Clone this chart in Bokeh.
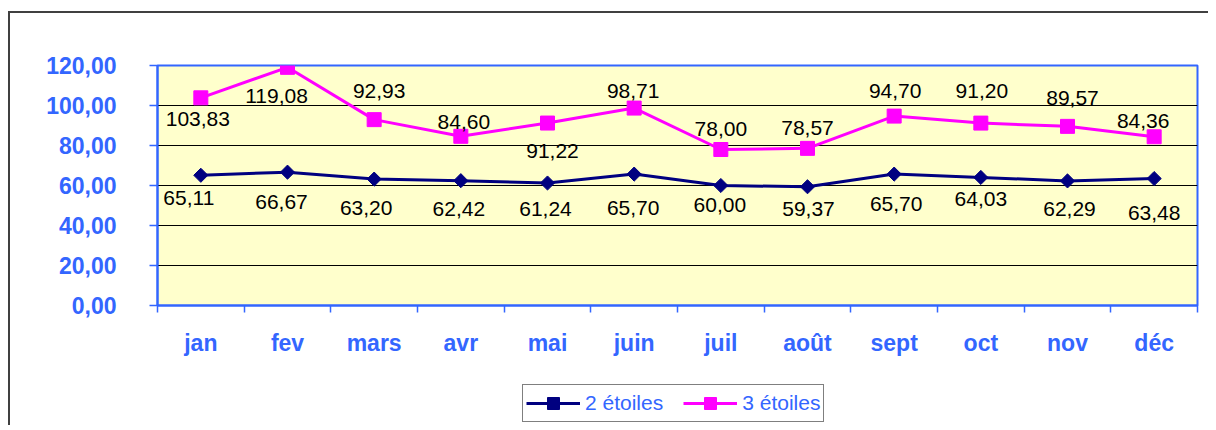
from bokeh.plotting import figure
from bokeh.layouts import column
from bokeh.models import (ColumnDataSource, FixedTicker, Legend, LegendItem, Range1d)
from bokeh.core.properties import value
from bokeh.embed import file_html
from bokeh.resources import INLINE
import math

# ---- data ----
months = ["jan", "fev", "mars", "avr", "mai", "juin", "juil", "août", "sept", "oct", "nov", "déc"]
deux_etoiles = [65.11, 66.67, 63.20, 62.42, 61.24, 65.70, 60.00, 59.37, 65.70, 64.03, 62.29, 63.48]
trois_etoiles = [103.83, 119.08, 92.93, 84.60, 91.22, 98.71, 78.00, 78.57, 94.70, 91.20, 89.57, 84.36]
y_ticks = [0, 20, 40, 60, 80, 100, 120]
series_names = ["2 étoiles", "3 étoiles"]

# label offsets in pixels (style)
dx2 = [-12, -6, -8, -2, -2, -1, -1, 1, 2, 0, 2, 0]
dy2 = [23, 30, 29, 28, 26, 34, 19, 22, 30, 22, 28, 34]
dx3 = [-3, -11, 5, 3, 5, -1, 0, 0, 1, 1, 5, -11]
dy3 = [21, 29, -29, -14, 28, -17, -21, -20, -25, -32, -28, -16]

BLUE = "#3366FF"
NAVY = "#000080"
MAG = "#FF00FF"
FONT = "Liberation Sans"

def fmt(v):
    return f"{v:.2f}".replace(".", ",")

xs = [i + 0.5 for i in range(len(months))]

p = figure(width=1198, height=352, output_backend="svg", toolbar_location=None,
           x_range=Range1d(0, len(months)), y_range=Range1d(0, 120),
           min_border_left=147, min_border_right=11, min_border_top=52, min_border_bottom=60)

p.background_fill_color = "#FFFFCC"
p.border_fill_color = "white"
p.outline_line_color = BLUE
p.outline_line_width = 2

# y axis
p.yaxis.ticker = FixedTicker(ticks=y_ticks)
p.yaxis.major_label_overrides = {t: fmt(t) for t in y_ticks}
p.yaxis.major_label_text_font = FONT
p.yaxis.major_label_text_font_size = "23px"
p.yaxis.major_label_text_font_style = "bold"
p.yaxis.major_label_text_color = BLUE
p.yaxis.major_label_standoff = 33
p.yaxis.axis_line_color = BLUE
p.yaxis.axis_line_width = 2
p.yaxis.major_tick_line_color = BLUE
p.yaxis.major_tick_line_width = 1.5
p.yaxis.major_tick_out = 8
p.yaxis.major_tick_in = 0
p.yaxis.minor_tick_line_color = None

# x axis
p.xaxis.ticker = FixedTicker(ticks=xs, minor_ticks=list(range(len(months) + 1)))
p.xaxis.major_label_overrides = {x: m for x, m in zip(xs, months)}
p.xaxis.major_label_text_font = FONT
p.xaxis.major_label_text_font_size = "23px"
p.xaxis.major_label_text_font_style = "bold"
p.xaxis.major_label_text_color = BLUE
p.xaxis.major_label_standoff = 17
p.xaxis.axis_line_color = BLUE
p.xaxis.axis_line_width = 2
p.xaxis.major_tick_line_color = None
p.xaxis.major_tick_out = 0
p.xaxis.major_tick_in = 0
p.xaxis.minor_tick_line_color = BLUE
p.xaxis.minor_tick_line_width = 1.5
p.xaxis.minor_tick_out = 7
p.xaxis.minor_tick_in = 0

# grid
p.xgrid.grid_line_color = None
p.ygrid.ticker = FixedTicker(ticks=y_ticks)
p.ygrid.grid_line_color = "black"
p.ygrid.grid_line_width = 1

src2 = ColumnDataSource(dict(x=xs, y=deux_etoiles, t=[fmt(v) for v in deux_etoiles], dx=dx2, dy=dy2))
src3 = ColumnDataSource(dict(x=xs, y=trois_etoiles, t=[fmt(v) for v in trois_etoiles], dx=dx3, dy=dy3))

line_kw2 = dict(line_color=NAVY, line_width=3)
mark_kw2 = dict(marker="square", angle=math.pi / 4, size=10, fill_color=NAVY, line_color=NAVY)
line_kw3 = dict(line_color=MAG, line_width=3)
mark_kw3 = dict(marker="square", size=14, fill_color=MAG, line_color=MAG)

p.line("x", "y", source=src2, **line_kw2)
p.scatter("x", "y", source=src2, **mark_kw2)
p.line("x", "y", source=src3, **line_kw3)
p.scatter("x", "y", source=src3, **mark_kw3)

for src in (src2, src3):
    p.text("x", "y", text="t", source=src, x_offset="dx", y_offset="dy",
           text_font=value(FONT), text_font_size="21px", text_color="black",
           text_align="center", text_baseline="middle")

# ---- legend strip below the chart (same series, outside its visible range) ----
q = figure(width=1198, height=60, output_backend="svg", toolbar_location=None,
           x_range=Range1d(0, len(months)), y_range=Range1d(1000, 1001),
           x_axis_location=None, y_axis_location=None,
           min_border_left=0, min_border_right=0, min_border_top=0, min_border_bottom=0)
q.outline_line_color = None
q.grid.grid_line_color = None
q.background_fill_color = "white"
q.border_fill_color = "white"

ql2 = q.line("x", "y", source=src2, **line_kw2)
qm2 = q.scatter("x", "y", source=src2, **mark_kw2)
ql3 = q.line("x", "y", source=src3, **line_kw3)
qm3 = q.scatter("x", "y", source=src3, **mark_kw3)

legend = Legend(items=[LegendItem(label=series_names[0], renderers=[ql2, qm2]),
                       LegendItem(label=series_names[1], renderers=[ql3, qm3])],
                orientation="horizontal", location=(365, 3))
legend.border_line_color = "black"
legend.border_line_width = 1
legend.background_fill_color = "white"
legend.background_fill_alpha = 1
legend.label_text_color = BLUE
legend.label_text_font = FONT
legend.label_text_font_size = "21px"
legend.glyph_width = 54
legend.glyph_height = 30
legend.label_standoff = 5
legend.spacing = 20
legend.padding = 3
legend.margin = 0
q.add_layout(legend, "center")

layout = column(p, q, spacing=0)
layout.styles = {"border-top": "2px solid #404040", "border-left": "2px solid #404040",
                 "margin-left": "8px", "margin-top": "11px"}

open("out.html", "w").write(file_html(layout, INLINE))
